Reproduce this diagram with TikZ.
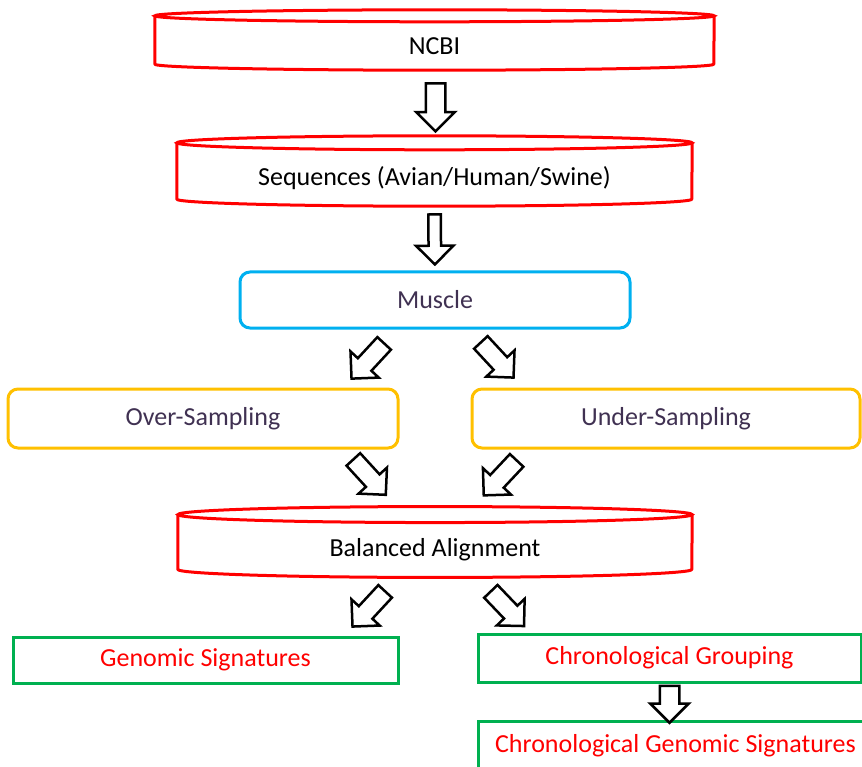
\documentclass[tikz,border=0pt]{standalone}
\usepackage{fontspec}
\setmainfont{Carlito}
\usetikzlibrary{shapes.arrows,calc}
\definecolor{cylred}{RGB}{255,0,0}
\definecolor{boxblue}{RGB}{0,176,240}
\definecolor{boxorange}{RGB}{255,192,0}
\definecolor{boxgreen}{RGB}{0,176,80}
\definecolor{txtpurple}{RGB}{64,49,82}

\begin{document}
\begin{tikzpicture}[x=1pt,y=-1pt,
  every node/.style={font=\fontsize{26}{31}\selectfont},
  cylbody/.style={rectangle, draw=none, inner sep=0},
  softbox/.style={rectangle, rounded corners=10, line width=3, text=txtpurple, inner sep=0},
  flatbox/.style={rectangle, draw=boxgreen, line width=3, text=cylred, inner sep=0},
  barrow/.style={single arrow, draw=black, fill=white, line width=2.5, single arrow tip angle=90,
    sloped, allow upside down, pos=0, anchor=tail},
  darrow/.style={barrow, minimum height=48, inner sep=8, single arrow head extend=10}]
\useasboundingbox (0,0) rectangle (862,767);
\clip (0,0) rectangle (862,767);

% data stores
\node[cylbody, minimum width=559, minimum height=48] (ncbi) at (434.5,46) {NCBI};
\node[cylbody, minimum width=515, minimum height=56] (seq) at (434.5,178) {Sequences (Avian/Human/Swine)};
\node[cylbody, minimum width=514, minimum height=54.5] (align) at (435,550) {Balanced Alignment};

% processing steps
\node[softbox, draw=boxblue, minimum width=390, minimum height=56] (muscle) at (435,300) {Muscle};
\node[softbox, draw=boxorange, minimum width=390, minimum height=59] (over) at (203,418.5) {Over-Sampling};
\node[softbox, draw=boxorange, minimum width=388, minimum height=59] (under) at (666,418.5) {Under-Sampling};

% results
\node[flatbox, minimum width=385, minimum height=46] (gen) at (205.5,660) {Genomic Signatures};
\node[flatbox, minimum width=383, minimum height=48] (chron) at (669.5,658) {Chronological Grouping};
\node[flatbox, minimum width=395, minimum height=50] (cgs) at (675.5,746) {Chronological Genomic Signatures};

% cylinder outlines
\foreach \cyl/\rx/\ry in {ncbi/279.5/6, seq/257.5/7, align/257/8}{
  \draw[cylred, line width=3] ($(\cyl.north)+(0,-\ry)$) ellipse[x radius=\rx, y radius=\ry];
  \draw[cylred, line width=3, line join=round] ($(\cyl.north west)+(0,-\ry)$) -- ($(\cyl.south west)+(0,-\ry)$)
    arc[start angle=180, end angle=0, x radius=\rx, y radius=\ry] -- ($(\cyl.north east)+(0,-\ry)$);
}

% block arrows
\path ($(ncbi.south)+(1,12)$) -- ($(seq.north)+(1,0)$) node[barrow, minimum height=48, inner sep=8.5, single arrow head extend=9.5] {};
\path ($(seq.south)+(0,7)$) -- (muscle.north) node[barrow, minimum height=50, inner sep=5, single arrow head extend=12.5] {};
\path ($(muscle.south)+(-50,13)$) -- ($(over.north east)+(-46,-11)$) node[darrow] {};
\path ($(muscle.south)+(45,12)$) -- ($(under.north west)+(42,-11)$) node[darrow] {};
\path ($(over.south east)+(-47,9)$) -- ($(align.north)+(-49,-27.5)$) node[darrow] {};
\path ($(under.south west)+(47,10)$) -- ($(align.north)+(50,-28.5)$) node[darrow] {};
\path ($(align.south)+(-49,13)$) -- ($(gen.north east)+(-46,-10)$) node[darrow] {};
\path ($(align.south)+(55,13)$) -- ($(chron.north west)+(47,-7)$) node[darrow] {};
\path ($(chron.south)+(0,1)$) -- (chron.south |- cgs.north) node[barrow, minimum height=37, inner sep=8.5, single arrow head extend=9.5] {};

\end{tikzpicture}
\end{document}
